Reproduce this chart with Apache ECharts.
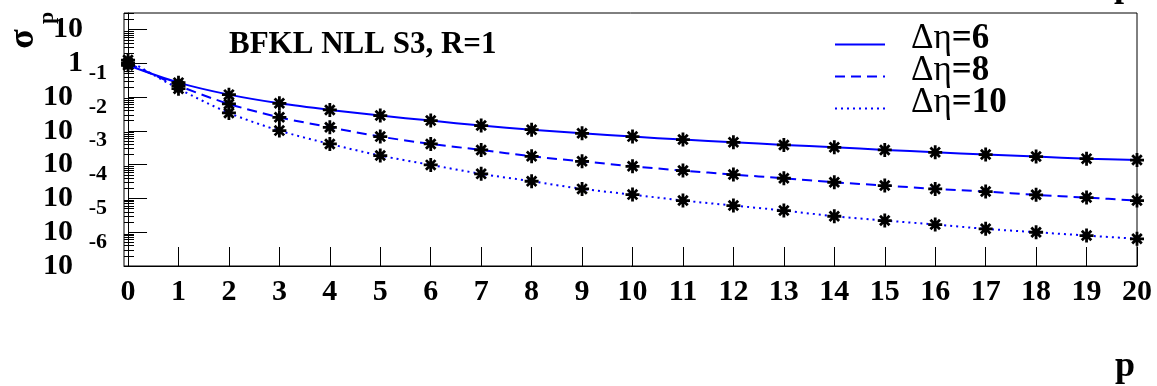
<!DOCTYPE html>
<html>
<head>
<meta charset="utf-8">
<script src="https://cdn.jsdelivr.net/npm/echarts@6/dist/echarts.min.js"></script>
<style>html,body{margin:0;padding:0;background:#fff}#c{width:1157px;height:386px}</style>
</head>
<body>
<div id="c"></div>
<script>
// ---- data ----
const pValues = [0,1,2,3,4,5,6,7,8,9,10,11,12,13,14,15,16,17,18,19,20];
const deta6 = [0.88,0.269,0.1186,0.0656,0.0418,0.0284,0.0202,0.01436,0.0109,0.00849,0.00678,0.00553,0.0046,0.00385,0.00327,0.00274,0.00233,0.00199,0.00174,0.00151,0.00137];
const deta8 = [1.02,0.219,0.0629,0.0253,0.0128,0.00678,0.00412,0.00274,0.00177,0.00126,0.000897,0.000669,0.000509,0.000396,0.000302,0.000241,0.000192,0.00016,0.000128,0.000106,0.0000867];
const deta10 = [1.25,0.178,0.0341,0.0102,0.00412,0.00186,0.000986,0.000535,0.000323,0.000192,0.00013,0.0000867,0.0000617,0.0000439,0.0000297,0.0000222,0.0000169,0.0000126,0.00001,0.00000798,0.00000638];
const seriesNames = ['Δη=6','Δη=8','Δη=10'];
const yMajorTicks = [1e-6,1e-5,1e-4,1e-3,1e-2,1e-1,1,10];
const yExponentTicks = [1e-6,1e-5,1e-4,1e-3,1e-2,1e-1];
const xTickValues = pValues;
const titleText = 'BFKL NLL S3, R=1';
const yTitle = ['σ','p'];
const xTitle = 'p';

// ---- styling ----
const FONT = 'Liberation Serif';
const BLUE = '#0000ff';
const lineTypes = ['solid',[10,6],[2,4]];
const seriesData = [deta6, deta8, deta10];
const legendTops = [21, 53, 85];
const Y_MIN = 0.99999e-6, Y_MAX = 31;
// exponents are drawn ~24px above their base "10" (ROOT style); one decade is ~33.8px here
const EXP_SHIFT = Math.pow(10, 24 / 33.8);

const minorY = [];
for (let e = -6; e <= 1; e++) {
  for (let m = 2; m <= 9; m++) {
    const v = parseFloat((m * Math.pow(10, e)).toPrecision(6));
    if (v <= Y_MAX) minorY.push(v);
  }
}

function yBaseLabel(v) {
  const e = Math.round(Math.log10(v));
  if (e === 1) return '{t|10}';
  if (e === 0) return '{t|1}';
  return '{b|10}';
}
function yExpLabel(v) {
  return String(Math.round(Math.log10(v)));
}

const asterisk = 'path://M5,0L5,10M0,5L10,5M1.6,1.6L8.4,8.4M8.4,1.6L1.6,8.4';

const series = [];
seriesData.forEach((arr, i) => {
  series.push({
    name: seriesNames[i], type: 'line', smooth: 0.3, symbol: 'none',
    data: pValues.map((p, j) => [p, arr[j]]),
    lineStyle: {color: BLUE, width: 2, type: lineTypes[i]},
    itemStyle: {color: BLUE},
    z: 2, silent: true
  });
});
seriesData.forEach((arr, i) => {
  series.push({
    name: 'pts' + i, type: 'scatter', symbol: asterisk, symbolSize: 14,
    data: pValues.map((p, j) => [p, arr[j]]),
    itemStyle: {color: '#000', borderColor: '#000', borderWidth: 2.8, opacity: 1},
    z: 3, silent: true
  });
});

const legends = seriesNames.map((n, i) => ({
  orient: 'vertical', left: 834, top: legendTops[i], padding: 0, itemGap: 0,
  itemWidth: 50, itemHeight: 14, selectedMode: false,
  data: [n],
  itemStyle: {opacity: 0, color: 'transparent', borderWidth: 0},
  formatter: s => '{g|' + s.slice(0, 2) + '}{n|' + s.slice(2) + '}',
  textStyle: {
    padding: [0, 0, 12, 21], lineHeight: 30,
    rich: {
      g: {fontFamily: FONT, fontSize: 35, color: '#000', lineHeight: 30},
      n: {fontFamily: FONT, fontWeight: 'bold', fontSize: 35, color: '#000', lineHeight: 30}
    }
  }
}));

const chart = echarts.init(document.getElementById('c'), null, {renderer: 'canvas'});
chart.setOption({
  animation: false,
  backgroundColor: '#fff',
  grid: {left: 124, right: 20, top: 13, bottom: 120, show: true, borderColor: '#000', borderWidth: 1, backgroundColor: 'transparent'},
  title: {
    text: titleText, left: 229, top: 29, padding: 0,
    textStyle: {fontFamily: FONT, fontWeight: 'bold', fontSize: 31, color: '#000'}
  },
  legend: legends,
  xAxis: {
    type: 'value', min: -0.08, max: 20,
    axisLine: {show: true, lineStyle: {color: '#000', width: 1}},
    axisTick: {show: true, inside: true, length: 19, customValues: xTickValues, lineStyle: {color: '#000'}},
    axisLabel: {customValues: xTickValues, margin: 11, fontFamily: FONT, fontWeight: 'bold', fontSize: 30, color: '#000', showMinLabel: true, showMaxLabel: true},
    splitLine: {show: false}
  },
  yAxis: [{
    type: 'log', logBase: 10, min: Y_MIN, max: Y_MAX, position: 'left',
    axisLine: {show: true, lineStyle: {color: '#000', width: 1}},
    axisTick: {show: true, inside: true, length: 19, customValues: yMajorTicks, lineStyle: {color: '#000'}},
    minorTick: {show: false},
    axisLabel: {
      customValues: yMajorTicks, margin: 17, formatter: yBaseLabel,
      rich: {
        t: {fontFamily: FONT, fontWeight: 'bold', fontSize: 30, lineHeight: 24, color: '#000', align: 'right', padding: [0, 24, 0, 0]},
        b: {fontFamily: FONT, fontWeight: 'bold', fontSize: 30, lineHeight: 24, color: '#000', align: 'right', padding: [0, 34, 0, 0]}
      }
    },
    splitLine: {show: false}
  }, {
    type: 'log', logBase: 10, min: Y_MIN, max: Y_MAX, position: 'left', offset: 0,
    axisLine: {show: false},
    axisTick: {show: true, inside: true, length: 10, customValues: minorY, lineStyle: {color: '#000'}},
    axisLabel: {show: false},
    splitLine: {show: false}
  }, {
    type: 'log', logBase: 10, min: Y_MIN / EXP_SHIFT, max: Y_MAX / EXP_SHIFT, position: 'left', offset: 0,
    axisLine: {show: false},
    axisTick: {show: false},
    axisLabel: {
      customValues: yExponentTicks, margin: 17, formatter: yExpLabel,
      fontFamily: FONT, fontWeight: 'bold', fontSize: 22, lineHeight: 24, color: '#000'
    },
    splitLine: {show: false}
  }],
  graphic: [
    {type: 'text', x: 24, y: 39, rotation: Math.PI / 2, style: {text: yTitle[0], font: 'bold 36px "Liberation Serif"', fill: '#000', align: 'center', verticalAlign: 'middle'}},
    {type: 'text', x: 47, y: 18, rotation: Math.PI / 2, style: {text: yTitle[1], font: 'bold 22px "Liberation Serif"', fill: '#000', align: 'center', verticalAlign: 'middle'}},
    {type: 'text', x: 1125, y: 367, style: {text: xTitle, font: 'bold 36px "Liberation Serif"', fill: '#000', align: 'center', verticalAlign: 'middle'}},
    {type: 'text', x: 1124, y: -13, style: {text: xTitle, font: 'bold 36px "Liberation Serif"', fill: '#000', align: 'center', verticalAlign: 'middle'}}
  ],
  series: series
});
</script>
</body>
</html>
